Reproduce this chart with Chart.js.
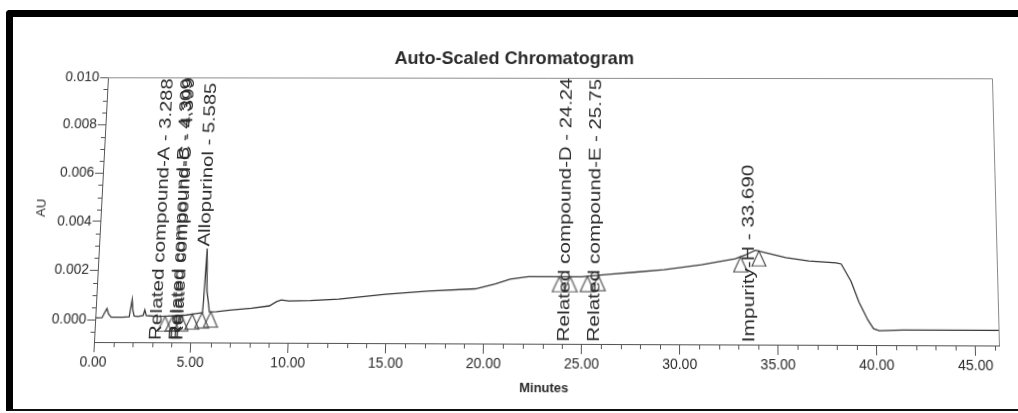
<!DOCTYPE html>
<html>
<head>
<meta charset="utf-8">
<script src="https://cdn.jsdelivr.net/npm/chart.js@4/dist/chart.umd.min.js"></script>
<style>
  html, body { margin: 0; padding: 0; background: #fff; overflow: hidden; }
  #frame {
    position: absolute; left: 6px; top: 10px; width: 1030px; height: 392px;
    border-top: 7px solid #000; border-left: 7px solid #000; border-bottom: 2px solid #111;
    border-top-left-radius: 4px;
  }
  #wrap { position: absolute; left: 0; top: 0; width: 1018px; height: 413px; transform-origin: 0 0; }
</style>
</head>
<body>
<div id="frame"></div>
<div id="wrap"><canvas id="c" width="1018" height="413"></canvas></div>
<script>
// trace (minutes, AU)
const traceTimes = [0, 0.35, 0.45, 0.58, 0.68, 0.82, 1.4, 1.75, 1.81, 1.86, 1.92, 2.0, 2.2, 2.46, 2.54, 2.62,
  2.8, 3.17, 3.7, 4.2, 4.7, 5.0, 5.35, 5.52, 5.57, 5.62, 5.7, 5.87, 6.24, 6.9, 8.03, 8.95, 9.3, 9.55, 9.95,
  11.05, 12.5, 14.92, 17.1, 19.52, 20.54, 21.3, 22.23, 23.64, 24.94, 26.34, 27.78, 29.19, 31.11, 32.84, 33.35,
  33.87, 34.4, 35.43, 36.61, 38.0, 38.26, 38.75, 39.14, 39.58, 39.86, 40.15, 41.35, 43.5, 46.2];
const traceValues = [0.00007, 0.00008, 0.00025, 0.00045, 0.00022, 0.0001, 0.0001, 0.00012, 0.0005, 0.00082,
  0.0004, 0.00015, 0.00013, 0.00017, 0.0004, 0.00017, 0.00016, 0.00014, 0.00015, 0.00017, 0.0002, 0.00024,
  0.00028, 0.0003, 0.0014, 0.0029, 0.0012, 0.00033, 0.00034, 0.0004, 0.00048, 0.00058, 0.00075, 0.00082,
  0.00078, 0.0008, 0.00086, 0.00107, 0.0012, 0.0013, 0.0015, 0.0017, 0.0018, 0.0018, 0.0018, 0.0019, 0.002,
  0.0021, 0.0023, 0.00255, 0.0027, 0.0029, 0.0028, 0.0026, 0.00247, 0.0024, 0.00235, 0.00165, 0.00082,
  0.0001, -0.00025, -0.00033, -0.0003, -0.0003, -0.0003];

// peak start / end markers
const markerTimes = [3.6, 4.0, 4.45, 5.0, 5.5, 5.95, 23.82, 24.38, 25.26, 25.82, 33.11, 34.05];
const markerValues = [0.00015, 0.00017, 0.00019, 0.00024, 0.0003, 0.00033, 0.0018, 0.0018, 0.00182, 0.00186, 0.00263, 0.00287];

// peak labels
const peakNames = ['Related compound-A', 'Related compound-B', 'Related compound-C', 'Allopurinol',
  'Related compound-D', 'Related compound-E', 'Impurity-H'];
const peakTimes = ['3.288', '4.309', '4.399', '5.585', '24.24', '25.75', '33.690'];
const peakHeights = [0.00015, 0.00018, 0.0002, 0.0029, 0.0018, 0.0019, 0.0029];

const xTickValues = [0, 5, 10, 15, 20, 25, 30, 35, 40, 45];
const xTickLabels = ['0.00', '5.00', '10.00', '15.00', '20.00', '25.00', '30.00', '35.00', '40.00', '45.00'];
const yTickValues = [0, 0.002, 0.004, 0.006, 0.008, 0.010];
const yTickLabels = ['0.000', '0.002', '0.004', '0.006', '0.008', '0.010'];

const FONT = "'Liberation Sans', Arial, sans-serif";
const INK = '#2a2a2a';
const LABEL_STRETCH = 1.28;

// the photographed print is seen slightly in perspective:
// plot corners as drawn -> where they sit in the photo
const corners = [[94, 77], [999, 77], [94, 342], [999, 342]];
const photoCorners = [[108, 77.3], [992, 78.3], [94, 342], [999, 345.5]];

function homography(src, dst) {
  const A = [], b = [];
  for (let i = 0; i < 4; i++) {
    const [x, y] = src[i], [u, v] = dst[i];
    A.push([x, y, 1, 0, 0, 0, -u * x, -u * y]); b.push(u);
    A.push([0, 0, 0, x, y, 1, -v * x, -v * y]); b.push(v);
  }
  for (let c = 0; c < 8; c++) {
    let p = c;
    for (let r = c + 1; r < 8; r++) if (Math.abs(A[r][c]) > Math.abs(A[p][c])) p = r;
    [A[c], A[p]] = [A[p], A[c]];
    [b[c], b[p]] = [b[p], b[c]];
    for (let r = 0; r < 8; r++) {
      if (r === c) continue;
      const f = A[r][c] / A[c][c];
      for (let k = c; k < 8; k++) A[r][k] -= f * A[c][k];
      b[r] -= f * b[c];
    }
  }
  return b.map((v, i) => v / A[i][i]);
}
const h = homography(corners, photoCorners);
document.getElementById('wrap').style.transform =
  `matrix3d(${h[0]},${h[3]},0,${h[6]},${h[1]},${h[4]},0,${h[7]},0,0,1,0,${h[2]},${h[5]},0,1)`;

// triangle marker with its apex at the image centre
function triangleImage() {
  const w = 16, hh = 32;
  const cv = document.createElement('canvas');
  cv.width = w; cv.height = hh;
  const g = cv.getContext('2d');
  g.strokeStyle = '#444';
  g.lineWidth = 1.1;
  g.beginPath();
  g.moveTo(w / 2, hh / 2);
  g.lineTo(w - 1, hh - 1);
  g.lineTo(1, hh - 1);
  g.closePath();
  g.stroke();
  return cv;
}

const extras = {
  id: 'extras',
  beforeDatasetsDraw(chart) {
    const { ctx, chartArea: a, scales: { x, y } } = chart;
    ctx.save();
    ctx.strokeStyle = '#555';
    ctx.lineWidth = 1;
    // minor ticks
    ctx.beginPath();
    for (let m = 1; m <= 46; m++) {
      if (m % 5 === 0) continue;
      const px = Math.round(x.getPixelForValue(m)) + 0.5;
      ctx.moveTo(px, a.bottom);
      ctx.lineTo(px, a.bottom + 5);
    }
    for (let k = -1; k <= 20; k++) {
      if (k % 4 === 0) continue;
      const v = k * 0.0005;
      if (v < y.min || v > y.max) continue;
      const py = Math.round(y.getPixelForValue(v)) + 0.5;
      ctx.moveTo(a.left - 4, py);
      ctx.lineTo(a.left, py);
    }
    ctx.stroke();
    // plot box top and right
    ctx.strokeStyle = '#8a8a8a';
    ctx.beginPath();
    ctx.moveTo(a.left, a.top + 0.5);
    ctx.lineTo(a.right + 0.5, a.top + 0.5);
    ctx.lineTo(a.right + 0.5, a.bottom);
    ctx.stroke();
    ctx.restore();
  },
  afterDatasetsDraw(chart) {
    const { ctx, chartArea: a, scales: { x, y } } = chart;
    ctx.save();
    ctx.fillStyle = INK;
    ctx.font = '16px ' + FONT;
    ctx.textAlign = 'left';
    ctx.textBaseline = 'middle';
    peakNames.forEach((name, i) => {
      const text = name + ' - ' + peakTimes[i];
      const len = ctx.measureText(text).width * LABEL_STRETCH;
      const apex = y.getPixelForValue(peakHeights[i]);
      // above the apex when it fits, otherwise from the baseline up
      const start = apex - 3 - len >= a.top ? apex - 2 : a.bottom - 2;
      const px = x.getPixelForValue(parseFloat(peakTimes[i])) - 2;
      ctx.save();
      ctx.translate(px, start);
      ctx.rotate(-Math.PI / 2);
      ctx.scale(LABEL_STRETCH, 1);
      ctx.fillText(text, 0, 0);
      ctx.restore();
    });
    ctx.restore();
  }
};

new Chart(document.getElementById('c'), {
  type: 'scatter',
  data: {
    datasets: [{
      data: traceTimes.map((t, i) => ({ x: t, y: traceValues[i] })),
      showLine: true,
      borderColor: '#3a3a3a',
      borderWidth: 1.3,
      pointRadius: 0,
      tension: 0
    }, {
      data: markerTimes.map((t, i) => ({ x: t, y: markerValues[i] })),
      showLine: false,
      pointStyle: triangleImage(),
      pointRadius: 8
    }]
  },
  options: {
    responsive: false,
    animation: false,
    events: [],
    layout: { padding: { left: 24, right: 19, top: 0, bottom: 0 } },
    plugins: {
      legend: { display: false },
      tooltip: { enabled: false },
      title: {
        display: true,
        text: 'Auto-Scaled Chromatogram',
        color: INK,
        font: { family: FONT, size: 18.5, weight: 'bold' },
        padding: { top: 47, bottom: 7.8 }
      }
    },
    scales: {
      x: {
        type: 'linear',
        min: 0, max: 46.2,
        afterFit: s => { s.height = 71; },
        afterBuildTicks: s => { s.ticks = xTickValues.map(v => ({ value: v })); },
        ticks: {
          color: INK, padding: 2, maxRotation: 0, autoSkip: false,
          font: { family: FONT, size: 14 },
          callback: (v, i) => xTickLabels[i]
        },
        grid: { drawOnChartArea: false, drawTicks: true, tickLength: 10, tickColor: '#555' },
        border: { display: true, color: '#555' },
        title: {
          display: true, text: 'Minutes', color: INK,
          font: { family: FONT, size: 13, weight: 'bold' },
          padding: { top: 4, bottom: 20 }
        }
      },
      y: {
        type: 'linear',
        min: -0.0009, max: 0.010,
        afterFit: s => { s.width = 70; },
        afterBuildTicks: s => { s.ticks = yTickValues.map(v => ({ value: v })); },
        ticks: {
          color: INK, padding: 1, autoSkip: false,
          font: { family: FONT, size: 14 },
          callback: (v, i) => yTickLabels[i]
        },
        grid: { drawOnChartArea: false, drawTicks: true, tickLength: 8, tickColor: '#555' },
        border: { display: true, color: '#555' },
        title: {
          display: true, text: 'AU', color: INK,
          font: { family: FONT, size: 13 },
          padding: { top: 2, bottom: 0 }
        }
      }
    }
  },
  plugins: [extras]
});
</script>
</body>
</html>
